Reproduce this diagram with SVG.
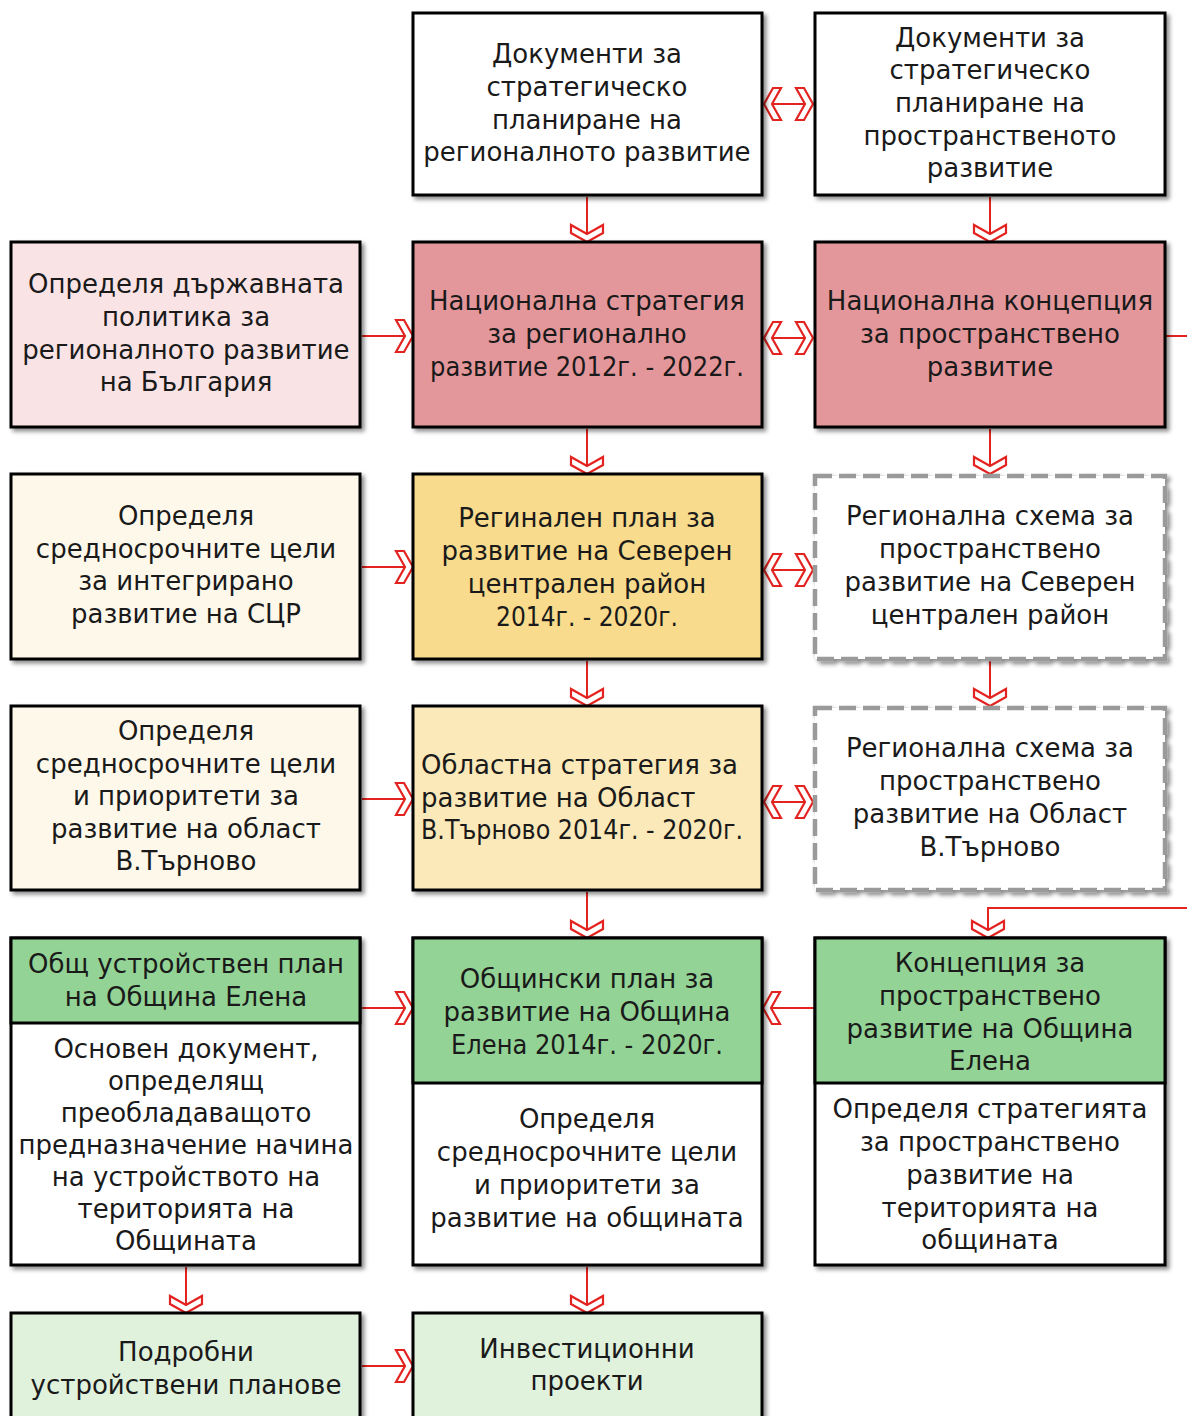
<svg xmlns="http://www.w3.org/2000/svg" width="1187" height="1416" viewBox="0 0 1187 1416">
<style>
.box{stroke:#000;stroke-width:3}
.dash{fill:#fff;stroke:#9a9a9a;stroke-width:4.5;stroke-dasharray:17 7}
.t{font-family:"DejaVu Sans",sans-serif;font-size:26px;fill:#1a1a1a;text-anchor:middle;dominant-baseline:central}
.l{text-anchor:start}
.c{fill:none;stroke:#e3231f;stroke-width:2}
</style>
<defs>
<filter id="sh" x="-5%" y="-5%" width="115%" height="115%">
<feDropShadow dx="3" dy="3" stdDeviation="2" flood-color="#000" flood-opacity="0.45"/>
</filter>
<marker id="ch" viewBox="-20 -20 40 40" markerWidth="40" markerHeight="40" refX="0" refY="0" orient="auto-start-reverse" markerUnits="userSpaceOnUse">
<polygon points="-9,-16 0,0 -9,16 -17,16 -8,0 -17,-16" fill="#fff" stroke="#e3231f" stroke-width="2.2" stroke-linejoin="miter"/>
</marker>
</defs>

<g id="connectors">
<line class="c" x1="764" y1="104" x2="813" y2="104" marker-start="url(#ch)" marker-end="url(#ch)"/>
<line class="c" x1="587" y1="197" x2="587" y2="242" marker-end="url(#ch)"/>
<line class="c" x1="990" y1="197" x2="990" y2="242" marker-end="url(#ch)"/>
<line class="c" x1="362" y1="336" x2="413" y2="336" marker-end="url(#ch)"/>
<line class="c" x1="764" y1="338" x2="813" y2="338" marker-start="url(#ch)" marker-end="url(#ch)"/>
<path class="c" d="M1166,336 H1200 V908 H988 V938" marker-end="url(#ch)"/>
<line class="c" x1="587" y1="429" x2="587" y2="474" marker-end="url(#ch)"/>
<line class="c" x1="990" y1="429" x2="990" y2="474" marker-end="url(#ch)"/>
<line class="c" x1="362" y1="567" x2="413" y2="567" marker-end="url(#ch)"/>
<line class="c" x1="764" y1="570" x2="813" y2="570" marker-start="url(#ch)" marker-end="url(#ch)"/>
<line class="c" x1="587" y1="661" x2="587" y2="706" marker-end="url(#ch)"/>
<line class="c" x1="990" y1="661" x2="990" y2="706" marker-end="url(#ch)"/>
<line class="c" x1="362" y1="799" x2="413" y2="799" marker-end="url(#ch)"/>
<line class="c" x1="764" y1="802" x2="813" y2="802" marker-start="url(#ch)" marker-end="url(#ch)"/>
<line class="c" x1="587" y1="892" x2="587" y2="938" marker-end="url(#ch)"/>
<line class="c" x1="362" y1="1008" x2="413" y2="1008" marker-end="url(#ch)"/>
<line class="c" x1="814" y1="1008" x2="763" y2="1008" marker-end="url(#ch)"/>
<line class="c" x1="186" y1="1267" x2="186" y2="1313" marker-end="url(#ch)"/>
<line class="c" x1="587" y1="1267" x2="587" y2="1313" marker-end="url(#ch)"/>
<line class="c" x1="362" y1="1366" x2="413" y2="1366" marker-end="url(#ch)"/>
</g>

<g id="n-docs-regional">
<rect class="box" x="413" y="13" width="349" height="182" fill="#fff" filter="url(#sh)"/>
<text class="t" x="587" y="54">Документи за</text>
<text class="t" x="587" y="87">стратегическо</text>
<text class="t" x="587" y="120">планиране на</text>
<text class="t" x="587" y="152">регионалното развитие</text>
</g>
<g id="n-docs-spatial">
<rect class="box" x="815" y="13" width="350" height="182" fill="#fff" filter="url(#sh)"/>
<text class="t" x="990" y="38">Документи за</text>
<text class="t" x="990" y="70">стратегическо</text>
<text class="t" x="990" y="103">планиране на</text>
<text class="t" x="990" y="136">пространственото</text>
<text class="t" x="990" y="168">развитие</text>
</g>

<g id="n-policy">
<rect class="box" x="11" y="242" width="349" height="185" fill="#f9e3e4" filter="url(#sh)"/>
<text class="t" x="186" y="284">Определя държавната</text>
<text class="t" x="186" y="317">политика за</text>
<text class="t" x="186" y="350">регионалното развитие</text>
<text class="t" x="186" y="382">на България</text>
</g>
<g id="n-nsrd">
<rect class="box" x="413" y="242" width="349" height="185" fill="#e4979a" filter="url(#sh)"/>
<text class="t" x="587" y="301">Национална стратегия</text>
<text class="t" x="587" y="334">за регионално</text>
<text class="t" x="587" y="367" textLength="314" lengthAdjust="spacingAndGlyphs">развитие 2012г. - 2022г.</text>
</g>
<g id="n-nksr">
<rect class="box" x="815" y="242" width="350" height="185" fill="#e4979a" filter="url(#sh)"/>
<text class="t" x="990" y="301">Национална концепция</text>
<text class="t" x="990" y="334">за пространствено</text>
<text class="t" x="990" y="367">развитие</text>
</g>

<g id="n-scr-goals">
<rect class="box" x="11" y="474" width="349" height="185" fill="#fef8ea" filter="url(#sh)"/>
<text class="t" x="186" y="516">Определя</text>
<text class="t" x="186" y="549">средносрочните цели</text>
<text class="t" x="186" y="581">за интегрирано</text>
<text class="t" x="186" y="614">развитие на СЦР</text>
</g>
<g id="n-rpr">
<rect class="box" x="413" y="474" width="349" height="185" fill="#f8db8c" filter="url(#sh)"/>
<text class="t" x="587" y="518">Регинален план за</text>
<text class="t" x="587" y="551">развитие на Северен</text>
<text class="t" x="587" y="584">централен район</text>
<text class="t" x="587" y="617" textLength="182" lengthAdjust="spacingAndGlyphs">2014г. - 2020г.</text>
</g>
<g id="n-rss-scr">
<rect class="dash" x="815" y="476" width="350" height="183" filter="url(#sh)"/>
<text class="t" x="990" y="516">Регионална схема за</text>
<text class="t" x="990" y="549">пространствено</text>
<text class="t" x="990" y="582">развитие на Северен</text>
<text class="t" x="990" y="615">централен район</text>
</g>

<g id="n-vt-goals">
<rect class="box" x="11" y="706" width="349" height="184" fill="#fef8ea" filter="url(#sh)"/>
<text class="t" x="186" y="731">Определя</text>
<text class="t" x="186" y="764">средносрочните цели</text>
<text class="t" x="186" y="796">и приоритети за</text>
<text class="t" x="186" y="829">развитие на област</text>
<text class="t" x="186" y="861">В.Търново</text>
</g>
<g id="n-osr">
<rect class="box" x="413" y="706" width="349" height="184" fill="#fbe9b9" filter="url(#sh)"/>
<text class="t l" x="421" y="765">Областна стратегия за</text>
<text class="t l" x="421" y="798">развитие на Област</text>
<text class="t l" x="421" y="830" textLength="322" lengthAdjust="spacingAndGlyphs">В.Търново 2014г. - 2020г.</text>
</g>
<g id="n-rss-vt">
<rect class="dash" x="815" y="708" width="350" height="182" filter="url(#sh)"/>
<text class="t" x="990" y="748">Регионална схема за</text>
<text class="t" x="990" y="781">пространствено</text>
<text class="t" x="990" y="814">развитие на Област</text>
<text class="t" x="990" y="847">В.Търново</text>
</g>

<g id="n-oup">
<rect class="box" x="11" y="938" width="349" height="327" fill="#fff" filter="url(#sh)"/>
<rect class="box" x="11" y="938" width="349" height="85" fill="#93d395"/>
<text class="t" x="186" y="964">Общ устройствен план</text>
<text class="t" x="186" y="997">на Община Елена</text>
<text class="t" x="186" y="1049">Основен документ,</text>
<text class="t" x="186" y="1081">определящ</text>
<text class="t" x="186" y="1113">преобладаващото</text>
<text class="t" x="186" y="1145">предназначение начина</text>
<text class="t" x="186" y="1177">на устройството на</text>
<text class="t" x="186" y="1209">територията на</text>
<text class="t" x="186" y="1241">Общината</text>
</g>
<g id="n-opr">
<rect class="box" x="413" y="938" width="349" height="327" fill="#fff" filter="url(#sh)"/>
<rect class="box" x="413" y="938" width="349" height="145" fill="#93d395"/>
<text class="t" x="587" y="979">Общински план за</text>
<text class="t" x="587" y="1012">развитие на Община</text>
<text class="t" x="587" y="1045" textLength="272" lengthAdjust="spacingAndGlyphs">Елена 2014г. - 2020г.</text>
<text class="t" x="587" y="1119">Определя</text>
<text class="t" x="587" y="1152">средносрочните цели</text>
<text class="t" x="587" y="1185">и приоритети за</text>
<text class="t" x="587" y="1218">развитие на общината</text>
</g>
<g id="n-ksr">
<rect class="box" x="815" y="938" width="350" height="327" fill="#fff" filter="url(#sh)"/>
<rect class="box" x="815" y="938" width="350" height="145" fill="#93d395"/>
<text class="t" x="990" y="963">Концепция за</text>
<text class="t" x="990" y="996">пространствено</text>
<text class="t" x="990" y="1029">развитие на Община</text>
<text class="t" x="990" y="1061">Елена</text>
<text class="t" x="990" y="1109">Определя стратегията</text>
<text class="t" x="990" y="1142">за пространствено</text>
<text class="t" x="990" y="1175">развитие на</text>
<text class="t" x="990" y="1208">територията на</text>
<text class="t" x="990" y="1240">общината</text>
</g>

<g id="n-pup">
<rect class="box" x="11" y="1313" width="349" height="130" fill="#e0f1dc" filter="url(#sh)"/>
<text class="t" x="186" y="1352">Подробни</text>
<text class="t" x="186" y="1385">устройствени планове</text>
</g>
<g id="n-invest">
<rect class="box" x="413" y="1313" width="349" height="130" fill="#e0f1dc" filter="url(#sh)"/>
<text class="t" x="587" y="1349">Инвестиционни</text>
<text class="t" x="587" y="1381">проекти</text>
</g>
</svg>
